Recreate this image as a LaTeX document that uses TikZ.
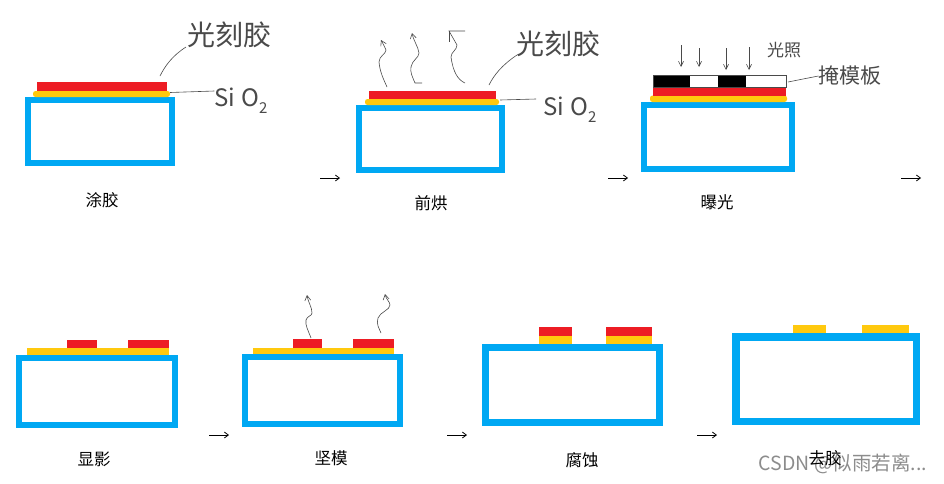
\documentclass[tikz,border=0pt]{standalone}
\usepackage{fontspec}
\usetikzlibrary{arrows.meta}
\newfontfamily\cjk{Noto Sans CJK SC}
\setmainfont{Liberation Sans}
\definecolor{subblue}{HTML}{00A8F3}
\definecolor{resist}{HTML}{ED1C24}
\definecolor{oxide}{HTML}{FFC90E}
\definecolor{ink}{HTML}{4A4A4A}
\newcommand{\sz}[1]{\fontsize{#1}{#1}\selectfont}
\tikzset{
  x=1pt,y=-1pt,
  subst/.style={draw=subblue,line width=6pt,fill=white},
  redlayer/.style={fill=resist},
  oxlayer/.style={fill=oxide},
  roundox/.style={fill=oxide,rounded corners=2.5pt},
  stagelabel/.style={inner sep=0pt,font=\cjk\sz{16.5},text=black},
  hand/.style={inner sep=0pt,font=\cjk\sz{#1},text=ink},
  hand/.default=28,
  leaderline/.style={draw=ink,line width=0.6pt},
  wiggle/.style={draw=ink,line width=0.6pt,-{Straight Barb[length=5pt,width=6pt]}},
  lightray/.style={draw=ink,line width=0.6pt,-{Straight Barb[length=5pt,width=5pt]}},
  flow/.style={draw=black,line width=0.8pt,-{Straight Barb[length=4pt,width=6pt]}},
}
\newcommand{\sio}{Si\hspace{0.25em}O\raisebox{-0.3em}{\sz{15}2}}
\begin{document}
\begin{tikzpicture}
\useasboundingbox (0,0) rectangle (944,483);
\fill[white] (0,0) rectangle (944,483);

% Stage 1
\draw[subst] (27.5,100) rectangle (172,163);
\fill[redlayer] (37,82) rectangle (167,91);
\fill[roundox] (33,91) rectangle (170,97);
\node[hand=28] (resistA) at (229,35) {光刻胶};
\node[hand=24] (sioA) at (241,101) {\sio};
\node[stagelabel] (capA) at (102,200) {涂胶};
\coordinate (resistAend) at (160,76);
\coordinate (sioAend) at (170,92.5);
\draw[leaderline] (resistAend) .. controls (165,66) and (172,56) .. (186,47);
\draw[leaderline] (sioAend) -- (sioA.west |- 0,91);

% Stage 2
\draw[subst] (359,108) rectangle (502,170);
\fill[redlayer] (369,91) rectangle (496,99);
\fill[roundox] (365,99) rectangle (499,105);
\node[hand=28] (resistB) at (558,44) {光刻胶};
\node[hand=24] (sioB) at (570,110) {\sio};
\node[stagelabel] (capB) at (431,203) {前烘};
\coordinate (resistBend) at (489,85);
\coordinate (sioBend) at (500,100);
\draw[leaderline] (resistBend) .. controls (494,75) and (502,65) .. (517,55);
\draw[leaderline] (sioBend) -- (536,99);
\draw[wiggle] (387,87) .. controls (383,78) and (380,72) .. (379,62) .. controls (379,56) and (386,54) .. (386,50) .. controls (385,47) and (383,44) .. (381,40);
\draw[wiggle] (422,83) -- (415,83) .. controls (412,76) and (410,72) .. (411,67) .. controls (412,60) and (419,58) .. (419,53) .. controls (418,46) and (414,42) .. (412,33);
\draw[leaderline] (465,83) .. controls (458,80) and (453,72) .. (451,57) .. controls (451,52) and (457,50) .. (457,45) -- (449,31) -- (465,31);
\draw[leaderline] (449,31) -- (449,42);

% Stage 3
\draw[subst] (644,105) rectangle (792,169);
\fill[roundox] (650,95.5) rectangle (787,102);
\fill[redlayer] (653,87) rectangle (786,95.5);
\fill[white] (690,75) rectangle (786,87);
\fill[black] (653,75) rectangle (690,87);
\fill[black] (718,75) rectangle (746,87);
\draw[ink,line width=0.5pt] (653,75) rectangle (786,87);
\node[hand=17] (lightlabel) at (784,50) {光照};
\node[hand=21] (masklabel) at (850,76) {掩模板};
\node[stagelabel] (capC) at (717,202) {曝光};
\coordinate (maskend) at (788,82);
\draw[leaderline] (maskend) -- (masklabel.west);
\draw[lightray] (681,45) -- (681,67);
\draw[lightray] (699,48) -- (699,67);
\draw[lightray] (726,48) -- (726,70);
\draw[lightray] (749,47) -- (749,70);

% Stage 4
\draw[subst] (19,358) rectangle (175,425);
\fill[oxlayer] (27,348) rectangle (169,355);
\fill[redlayer] (67,340) rectangle (97,348);
\fill[redlayer] (128,340) rectangle (169,348);
\node[stagelabel] (capD) at (94,459) {显影};

% Stage 5
\draw[subst] (245,357) rectangle (400,424);
\fill[oxlayer] (253,348) rectangle (394,354);
\fill[redlayer] (293,339) rectangle (322,348);
\fill[redlayer] (353,339) rectangle (394,348);
\node[stagelabel] (capE) at (331,458) {坚模};
\draw[wiggle] (311,338) .. controls (308,330) and (305,325) .. (306,320) .. controls (307,316) and (312,316) .. (312,313) .. controls (312,307) and (308,302) .. (307,295);
\draw[wiggle] (381,333) .. controls (379,328) and (376,324) .. (378,318) .. controls (380,312) and (390,310) .. (390,305) .. controls (390,302) and (386,299) .. (385,294);

% Stage 6
\draw[subst,line width=7pt] (485.5,347.5) rectangle (659.5,422.5);
\fill[redlayer] (539,327) rectangle (572,336);
\fill[redlayer] (606,327) rectangle (652,336);
\fill[oxlayer] (539,336) rectangle (572,344);
\fill[oxlayer] (606,336) rectangle (652,344);
\node[stagelabel] (capF) at (582,460) {腐蚀};

% Stage 7
\draw[subst,line width=7.5pt] (735.75,336.75) rectangle (916.25,421.25);
\fill[oxlayer] (793,325) rectangle (826,333);
\fill[oxlayer] (862,325) rectangle (909,333);
\node[stagelabel] (capG) at (825,458) {去胶};

% Flow arrows
\coordinate (f1a) at (320,178); \coordinate (f1b) at (340,178);
\coordinate (f2a) at (608,178); \coordinate (f2b) at (628,178);
\coordinate (f3a) at (901,178); \coordinate (f3b) at (921,178);
\coordinate (f4a) at (209,435); \coordinate (f4b) at (229,435);
\coordinate (f5a) at (447,435); \coordinate (f5b) at (467,435);
\coordinate (f6a) at (697,435); \coordinate (f6b) at (717,435);
\draw[flow] (f1a) -- (f1b);
\draw[flow] (f2a) -- (f2b);
\draw[flow] (f3a) -- (f3b);
\draw[flow] (f4a) -- (f4b);
\draw[flow] (f5a) -- (f5b);
\draw[flow] (f6a) -- (f6b);

% Watermark
\node[inner sep=0pt,text=black,text opacity=0.45,font=\cjk\sz{19.5}] (mark) at (843,464) {CSDN @似雨若离...};
\end{tikzpicture}
\end{document}
